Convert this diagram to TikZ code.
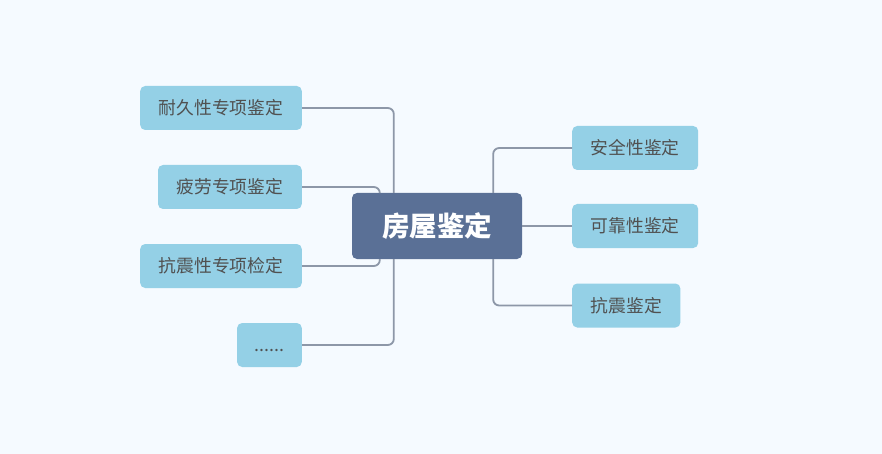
\documentclass[tikz,border=0pt]{standalone}
\usepackage{fontspec}
\newfontfamily\cjk{Noto Sans CJK SC}
\usepackage{tikz}
\usetikzlibrary{positioning, backgrounds}
\definecolor{PageBg}{HTML}{F5FAFF}
\definecolor{RootBlue}{HTML}{5A7096}
\definecolor{LeafBlue}{HTML}{94D0E6}
\definecolor{LineGray}{HTML}{8D97A8}
\definecolor{TextGray}{HTML}{505050}
\tikzset{
  % Box styles
  rootbox/.style={rectangle, rounded corners=5pt, fill=RootBlue, text=white, minimum width=170pt, minimum height=66pt, font=\cjk\bfseries\fontsize{27.5}{30}\selectfont, align=center},
  leafbox/.style={rectangle, rounded corners=5pt, fill=LeafBlue, text=TextGray, inner xsep=18.5pt, inner ysep=0pt, minimum height=44pt, font=\cjk\fontsize{17.8}{20}\selectfont, align=center},
  % Line styles
  branch/.style={LineGray, line width=1.8pt, rounded corners=6pt}
}

\begin{document}
\begin{tikzpicture}[x=1pt, y=-1pt]
  \fill[PageBg] (0,0) rectangle (882,454);
  \useasboundingbox (0,0) rectangle (882,454);

  % Mind map
  \node[rootbox] (root) at (437,226) {房屋鉴定};

  \node[leafbox, anchor=east] (durability) at (302,108) {耐久性专项鉴定};
  \node[leafbox, anchor=east] (fatigue) at (302,187) {疲劳专项鉴定};
  \node[leafbox, anchor=east] (seischeck) at (302,266) {抗震性专项检定};
  \node[leafbox, anchor=east, inner xsep=17.5pt] (more) at (302,345) {\vphantom{鉴}......};

  \node[leafbox, anchor=west] (safety) at (572,148) {安全性鉴定};
  \node[leafbox, anchor=west] (reliability) at (572,226) {可靠性鉴定};
  \node[leafbox, anchor=west] (seismic) at (572,305.5) {抗震鉴定};

  % Branches
  \draw[branch] (durability.east) -| ([xshift=42pt]root.north west);
  \draw[branch] (fatigue.east) -| ([xshift=28pt]root.north west);
  \draw[branch] (seischeck.east) -| ([xshift=28pt]root.south west);
  \draw[branch] (more.east) -| ([xshift=42pt]root.south west);
  \draw[branch] ([xshift=-29pt]root.north east) |- (safety.west);
  \draw[branch] (root.east) -- (reliability.west);
  \draw[branch] ([xshift=-29pt]root.south east) |- (seismic.west);
\end{tikzpicture}
\end{document}
